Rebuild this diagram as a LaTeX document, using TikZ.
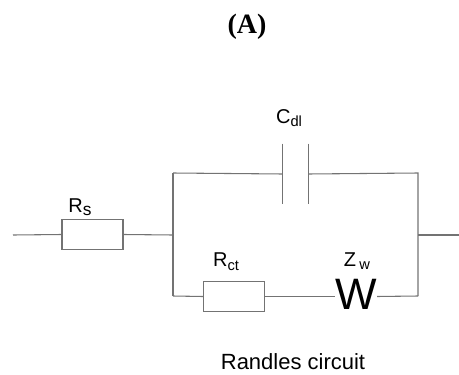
\documentclass[tikz,border=0pt]{standalone}
\usepackage{fontspec}
\setmainfont{Liberation Sans}
\newfontfamily\titlefont{Liberation Serif}
\begin{document}
\begin{tikzpicture}[
    x=0.75pt, y=-0.75pt,
    every node/.style={font=\fontsize{15}{17}\selectfont},
    wire/.style={
        draw=black!55,
        line width=0.8pt
    },
    resistor/.style={
        rectangle,
        draw=black!55,
        line width=0.8pt,
        minimum width=45.75pt,
        minimum height=23pt,
        inner sep=0pt
    },
    capacitor/.style={
        rectangle,
        minimum width=18.75pt,
        minimum height=45pt,
        inner sep=0pt
    },
    warburg/.style={
        inner sep=0pt,
        font=\fontsize{33}{33}\selectfont
    }
]
\useasboundingbox (0,0) rectangle (459,374);

% Titel
\node[font=\titlefont\bfseries\fontsize{21}{23}\selectfont] (title) at (247,27) {(A)};

% Bauteile
\coordinate (in) at (13,235);
\node[resistor] (rs) at (92.5,234.5) {};
\coordinate (jl) at (173,235);
\coordinate (jlt) at (173,173);
\coordinate (jlb) at (173,296);
\node[capacitor] (cdl) at (295.5,174) {};
\node[resistor] (rct) at (234,296.5) {};
\node[warburg] (zw) at (356,294) {W};
\coordinate (jr) at (418,235);
\coordinate (jrt) at (418,173);
\coordinate (jrb) at (418,296);
\coordinate (out) at (459,235);

% Beschriftungen
\node (rslabel) at (80,207) {R\raisebox{-0.3ex}{\fontsize{13}{15}\selectfont s}};
\node (cdllabel) at (289,118) {C\raisebox{-0.35ex}{\fontsize{11}{13}\selectfont dl}};
\node (rctlabel) at (226,262) {R\raisebox{-0.35ex}{\fontsize{11}{13}\selectfont ct}};
\node (zwlabel) at (357,261) {Z\,\raisebox{-0.35ex}{\fontsize{11}{13}\selectfont w}};
\node[font=\fontsize{16.5}{18}\selectfont] (name) at (293,362) {Randles circuit};

% Leitungen
\draw[wire] (in) -- (rs.west);
\draw[wire] (rs.east) -- (jl);
\draw[wire] (jlt) -- (jlb);
\draw[wire] (jlt) -- (cdl.west);
\draw[wire] (cdl.north west) -- (cdl.south west);
\draw[wire] (cdl.north east) -- (cdl.south east);
\draw[wire] (cdl.east) -- (jrt) -- (jrb);
\draw[wire] (jlb) -- (rct.west);
\draw[wire] (rct.east) -- (rct.east -| zw.west);
\draw[wire] (rct.east -| zw.east) -- (jrb);
\draw[wire] (jr) -- (out);

\end{tikzpicture}
\end{document}
